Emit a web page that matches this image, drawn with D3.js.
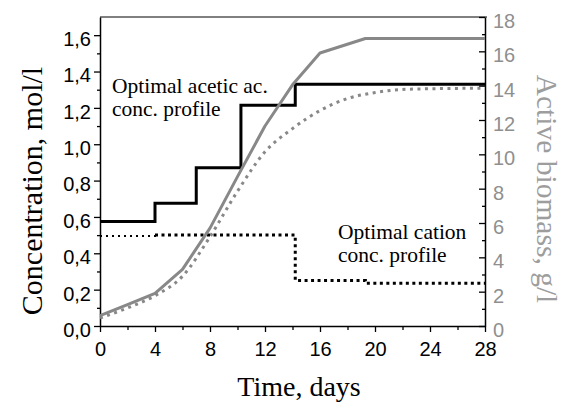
<!DOCTYPE html>
<html>
<head>
<meta charset="utf-8">
<script src="https://cdn.jsdelivr.net/npm/d3@7"></script>
<style>
  html, body { margin: 0; padding: 0; background: #fff; }
  svg { display: block; }
  .tick text { font-family: "Liberation Sans", Arial, sans-serif; font-size: 20px; }
  .serif { font-family: "Liberation Serif", "Times New Roman", serif; }
</style>
</head>
<body>
<script>
// time axis (days)
let xTicks = [0, 4, 8, 12, 16, 20, 24, 28];
let xMinor = [2, 6, 10, 14, 18, 22, 26];

// concentration axis, mol/l
let yTicks = [0, 0.2, 0.4, 0.6, 0.8, 1.0, 1.2, 1.4, 1.6];
let yMinor = [0.1, 0.3, 0.5, 0.7, 0.9, 1.1, 1.3, 1.5];

// biomass axis, g/l
let bTicks = [0, 2, 4, 6, 8, 10, 12, 14, 16, 18];
let bMinor = [1, 3, 5, 7, 9, 11, 13, 15, 17];

// acetic acid step profile
let aceticDays = [0, 4, 7, 10.25, 14.2, 28];
let aceticConc = [0.575, 0.675, 0.87, 1.215, 1.33, 1.33];

// cation step profile
let cationDays = [0, 4, 14.2, 19.3, 28];
let cationConc = [0.495, 0.5, 0.25, 0.235, 0.235];

// active biomass with the optimal profiles
let bioOptDays = [0, 2, 4, 6, 8, 10, 12, 14, 16, 19.3, 28];
let bioOpt = [0.6, 1.25, 1.9, 3.3, 5.7, 8.7, 11.65, 14.05, 15.9, 16.75, 16.75];

// active biomass, reference run
let bioRefDays = [0, 2, 4, 6, 8, 10, 12, 14, 16, 18, 20, 22, 24, 26, 28];
let bioRef = [0.47, 1.05, 1.77, 2.9, 5.2, 7.85, 10.15, 11.5, 12.55, 13.25, 13.6, 13.78, 13.82, 13.84, 13.85];

let w = 566, h = 405;
let padL = 100, padR = 485, padT = 17, padB = 326;
let grey = "#888";

let svg = d3.select("body").append("svg").attr("width", w).attr("height", h);

let x = d3.scaleLinear().domain([0, 28]).range([padL, padR]);
let y = d3.scaleLinear().domain([0, 1.7]).range([padB, padT]);
let yb = d3.scaleLinear().domain([0, 18]).range([padB, padT]);

let comma = v => d3.format(".1f")(v).replace(".", ",");

// axes
let gx = svg.append("g").attr("transform", `translate(0,${padB})`)
  .call(d3.axisBottom(x).tickValues(xTicks).tickSizeInner(6).tickSizeOuter(0).tickPadding(10));
svg.append("g").attr("transform", `translate(0,${padB})`)
  .call(d3.axisBottom(x).tickValues(xMinor).tickSizeInner(4).tickSizeOuter(0).tickFormat(""))
  .select(".domain").remove();

let gy = svg.append("g").attr("transform", `translate(${padL},0)`)
  .call(d3.axisLeft(y).tickValues(yTicks).tickFormat(comma).tickSizeInner(6).tickSizeOuter(0).tickPadding(3));
svg.append("g").attr("transform", `translate(${padL},0)`)
  .call(d3.axisLeft(y).tickValues(yMinor).tickSizeInner(3).tickSizeOuter(0).tickFormat(""))
  .select(".domain").remove();

let gb = svg.append("g").attr("transform", `translate(${padR},0)`)
  .call(d3.axisRight(yb).tickValues(bTicks).tickSizeInner(-6).tickSizeOuter(0).tickPadding(8));
svg.append("g").attr("transform", `translate(${padR},0)`)
  .call(d3.axisRight(yb).tickValues(bMinor).tickSizeInner(-3).tickSizeOuter(0).tickFormat(""))
  .select(".domain").remove();

svg.selectAll(".domain").attr("stroke", "#000").attr("stroke-width", 1.5);
svg.selectAll(".tick line").attr("stroke", "#000").attr("stroke-width", 1.3);
gx.selectAll(".tick text").attr("fill", "#000");
// vertical-axis labels sit a little below their ticks
gy.selectAll(".tick text").attr("fill", "#000").attr("dy", "0.52em");
gb.selectAll(".tick text").attr("fill", "#8f8f8f").attr("dy", "0.52em");

// top frame
svg.append("line").attr("x1", padL).attr("x2", padR + 2).attr("y1", padT).attr("y2", padT)
  .attr("stroke", "#000").attr("stroke-width", 1);

// biomass curves
let bioLine = d3.line().x(d => x(d[0])).y(d => yb(d[1]));
svg.append("path").datum(d3.zip(bioRefDays, bioRef))
  .attr("d", bioLine.curve(d3.curveMonotoneX))
  .attr("fill", "none").attr("stroke", grey).attr("stroke-width", 3)
  .attr("stroke-dasharray", "3,4.5");

// concentration step profiles
let stepLine = d3.line().x(d => x(d[0])).y(d => y(d[1])).curve(d3.curveStepAfter);
svg.append("path").datum(d3.zip(aceticDays, aceticConc))
  .attr("d", stepLine)
  .attr("fill", "none").attr("stroke", "#000").attr("stroke-width", 3);

let cation = d3.zip(cationDays, cationConc);
svg.append("path").datum(cation.slice(0, 2))
  .attr("d", stepLine)
  .attr("fill", "none").attr("stroke", "#000").attr("stroke-width", 2)
  .attr("stroke-dasharray", "2,4");
svg.append("path").datum(cation.slice(1))
  .attr("d", stepLine)
  .attr("fill", "none").attr("stroke", "#000").attr("stroke-width", 3)
  .attr("stroke-dasharray", "3,3.5");

svg.append("path").datum(d3.zip(bioOptDays, bioOpt))
  .attr("d", d3.line().x(d => x(d[0])).y(d => yb(d[1])))
  .attr("fill", "none").attr("stroke", grey).attr("stroke-width", 3)
  .attr("stroke-linejoin", "round");

// annotations
let note = (lines, x0, y0) => {
  let t = svg.append("text").attr("class", "serif").attr("font-size", 21.5).attr("fill", "#000");
  lines.forEach((s, i) => t.append("tspan").attr("x", x0).attr("y", y0 + i * 23).text(s));
};
note(["Optimal acetic ac.", "conc. profile"], 112, 93);
note(["Optimal cation", "conc. profile"], 338, 239);

// axis titles
svg.append("text").attr("class", "serif").attr("font-size", 30)
  .attr("text-anchor", "middle").attr("transform", "translate(42,191) rotate(-90)")
  .text("Concentration, mol/l");
svg.append("text").attr("class", "serif").attr("font-size", 29.5).attr("fill", "#9d9d9d")
  .attr("text-anchor", "middle").attr("transform", "translate(537,189) rotate(90)")
  .text("Active biomass, g/l");
svg.append("text").attr("class", "serif").attr("font-size", 28)
  .attr("text-anchor", "middle").attr("x", 299).attr("y", 396)
  .text("Time, days");
</script>
</body>
</html>
